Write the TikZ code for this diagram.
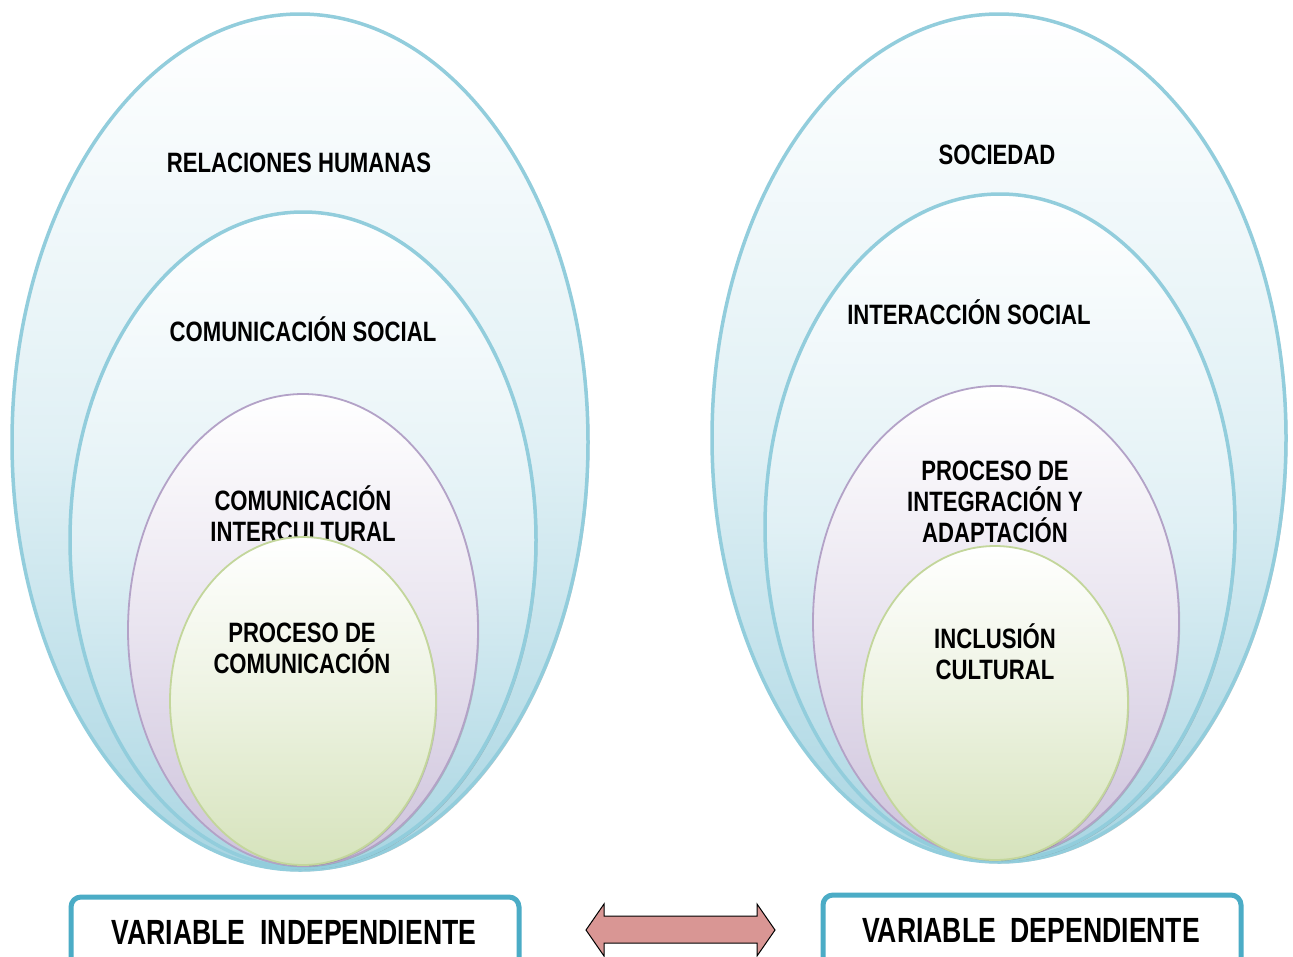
\documentclass[tikz,border=0pt]{standalone}
\usepackage{fontspec}
\setmainfont{Liberation Sans}[FakeStretch=0.79]
\newfontfamily\boxfont{Liberation Sans}[FakeStretch=0.76]
\usetikzlibrary{shapes.geometric,shadows}
\definecolor{blueline}{RGB}{146,205,220}
\definecolor{bluefill}{RGB}{168,213,226}
\definecolor{purpleline}{RGB}{179,162,199}
\definecolor{purplefill}{RGB}{206,195,220}
\definecolor{greenline}{RGB}{195,214,155}
\definecolor{greenfill}{RGB}{214,227,188}
\definecolor{boxline}{RGB}{75,172,198}
\definecolor{arrowfill}{RGB}{217,150,148}
\tikzset{
  oval/.style={ellipse, inner sep=0pt},
  blueoval/.style={oval, draw=blueline, line width=3.5pt, top color=white, bottom color=bluefill, middle color=bluefill!35!white,
    drop shadow={opacity=0.35, shadow xshift=1.5pt, shadow yshift=-1.5pt, fill=black!60}},
  purpleoval/.style={oval, draw=purpleline, line width=1.8pt, top color=white, bottom color=purplefill, middle color=purplefill!45!white,
    drop shadow={opacity=0.3, shadow xshift=1.2pt, shadow yshift=-1.2pt, fill=black!60}},
  greenoval/.style={oval, draw=greenline, line width=1.8pt, top color=white, bottom color=greenfill, middle color=greenfill!45!white,
    drop shadow={opacity=0.3, shadow xshift=1.2pt, shadow yshift=-1.2pt, fill=black!60}},
  lbl/.style={inner sep=0pt, align=center, font=\bfseries\fontsize{28}{31}\selectfont},
  varbox/.style={draw=boxline, line width=5pt, rounded corners=10pt, fill=white},
  varlbl/.style={inner sep=0pt, font=\boxfont\bfseries\fontsize{35}{40}\selectfont}
}
\begin{document}
\begin{tikzpicture}[x=1pt,y=-1pt]
\clip (0,0) rectangle (1293,956);
\fill[white] (0,0) rectangle (1293,956);
% left set
\node[blueoval, minimum width=576, minimum height=856] (l1) at (300,442) {};
\node[lbl] (t1) at (299,163) {RELACIONES HUMANAS};
\node[blueoval, minimum width=466, minimum height=656] (l2) at (303,540) {};
\node[lbl] (t2) at (303,329) {COMUNICACIÓN SOCIAL};
\node[purpleoval, minimum width=350, minimum height=472] (l3) at (303,630) {};
\node[lbl] (t3) at (303,514) {COMUNICACIÓN\\INTERCULTURAL};
\node[greenoval, minimum width=266, minimum height=328] (l4) at (303,701) {};
\node[lbl] (t4) at (302,648) {PROCESO DE\\COMUNICACIÓN};
% right set
\node[blueoval, minimum width=574, minimum height=848] (r1) at (999,438) {};
\node[lbl] (s1) at (997,155) {SOCIEDAD};
\node[blueoval, minimum width=470, minimum height=666] (r2) at (1000,527) {};
\node[lbl] (s2) at (969,312) {INTERACCIÓN SOCIAL};
\node[purpleoval, minimum width=366, minimum height=472] (r3) at (996,622) {};
\node[lbl] (s3) at (995,502) {PROCESO DE\\INTEGRACIÓN Y\\ADAPTACIÓN};
\node[greenoval, minimum width=266, minimum height=314] (r4) at (995,703) {};
\node[lbl] (s4) at (995,652) {INCLUSIÓN\\CULTURAL};
% variable boxes
\draw[varbox] (71,897) rectangle (519,990);
\node[varlbl] (vi) at (294,932) {VARIABLE\ \ INDEPENDIENTE};
\draw[varbox] (823,895) rectangle (1241,990);
\node[varlbl] (vd) at (1031,930) {VARIABLE\ \ DEPENDIENTE};
% double arrow
\draw[fill=arrowfill, line width=1pt, line join=miter]
  (586,930) -- (604,904) -- (604,916) -- (757,916) -- (757,904) -- (775,930)
  -- (757,956) -- (757,943) -- (604,943) -- (604,956) -- cycle;
\end{tikzpicture}
\end{document}
